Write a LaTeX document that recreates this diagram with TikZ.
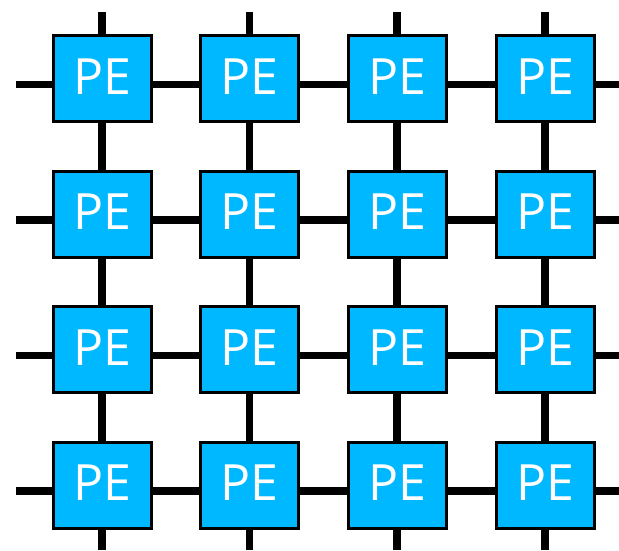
\documentclass[tikz,border=0pt]{standalone}
\usepackage{fontspec}
\setmainfont{Open Sans}
\usetikzlibrary{backgrounds}
\definecolor{peblue}{RGB}{0,184,255}
\tikzset{
  pebox/.style={draw=black, line width=3pt, fill=peblue, minimum width=98pt,
    minimum height=86pt, inner sep=0pt, text=white,
    font=\fontsize{50}{50}\selectfont},
  link/.style={line width=7.5pt, black}
}
\begin{document}
\begin{tikzpicture}[x=1pt,y=-1pt]
\useasboundingbox (0,0) rectangle (619,550);
% processing elements
\foreach \r/\y in {1/78.5,2/214,3/349.5,4/485}{
  \foreach \c/\x in {1/102,2/249.5,3/397,4/545}{
    \node[pebox] (p-\r-\c) at (\x,\y) {\raisebox{4pt}{PE}};
  }
}
% free ends of the mesh links
\foreach \r/\y in {1/84.5,2/220,3/355.5,4/491}{
  \coordinate (w-\r) at (16,\y);
  \coordinate (e-\r) at (619,\y);
}
\foreach \c/\x in {1/102,2/249.5,3/397,4/545}{
  \coordinate (n-\c) at (\x,12);
  \coordinate (s-\c) at (\x,550);
}
\begin{scope}[on background layer]
  % horizontal links
  \foreach \r in {1,...,4}{
    \draw[link] (w-\r) -- ([yshift=-6pt]p-\r-1.center);
    \draw[link] ([yshift=-6pt]p-\r-1.center) -- ([yshift=-6pt]p-\r-2.center);
    \draw[link] ([yshift=-6pt]p-\r-2.center) -- ([yshift=-6pt]p-\r-3.center);
    \draw[link] ([yshift=-6pt]p-\r-3.center) -- ([yshift=-6pt]p-\r-4.center);
    \draw[link] ([yshift=-6pt]p-\r-4.center) -- (e-\r);
  }
  % vertical links
  \foreach \c in {1,...,4}{
    \draw[link] (n-\c) -- (p-1-\c);
    \draw[link] (p-1-\c) -- (p-2-\c);
    \draw[link] (p-2-\c) -- (p-3-\c);
    \draw[link] (p-3-\c) -- (p-4-\c);
    \draw[link] (p-4-\c) -- (s-\c);
  }
\end{scope}
\end{tikzpicture}
\end{document}
